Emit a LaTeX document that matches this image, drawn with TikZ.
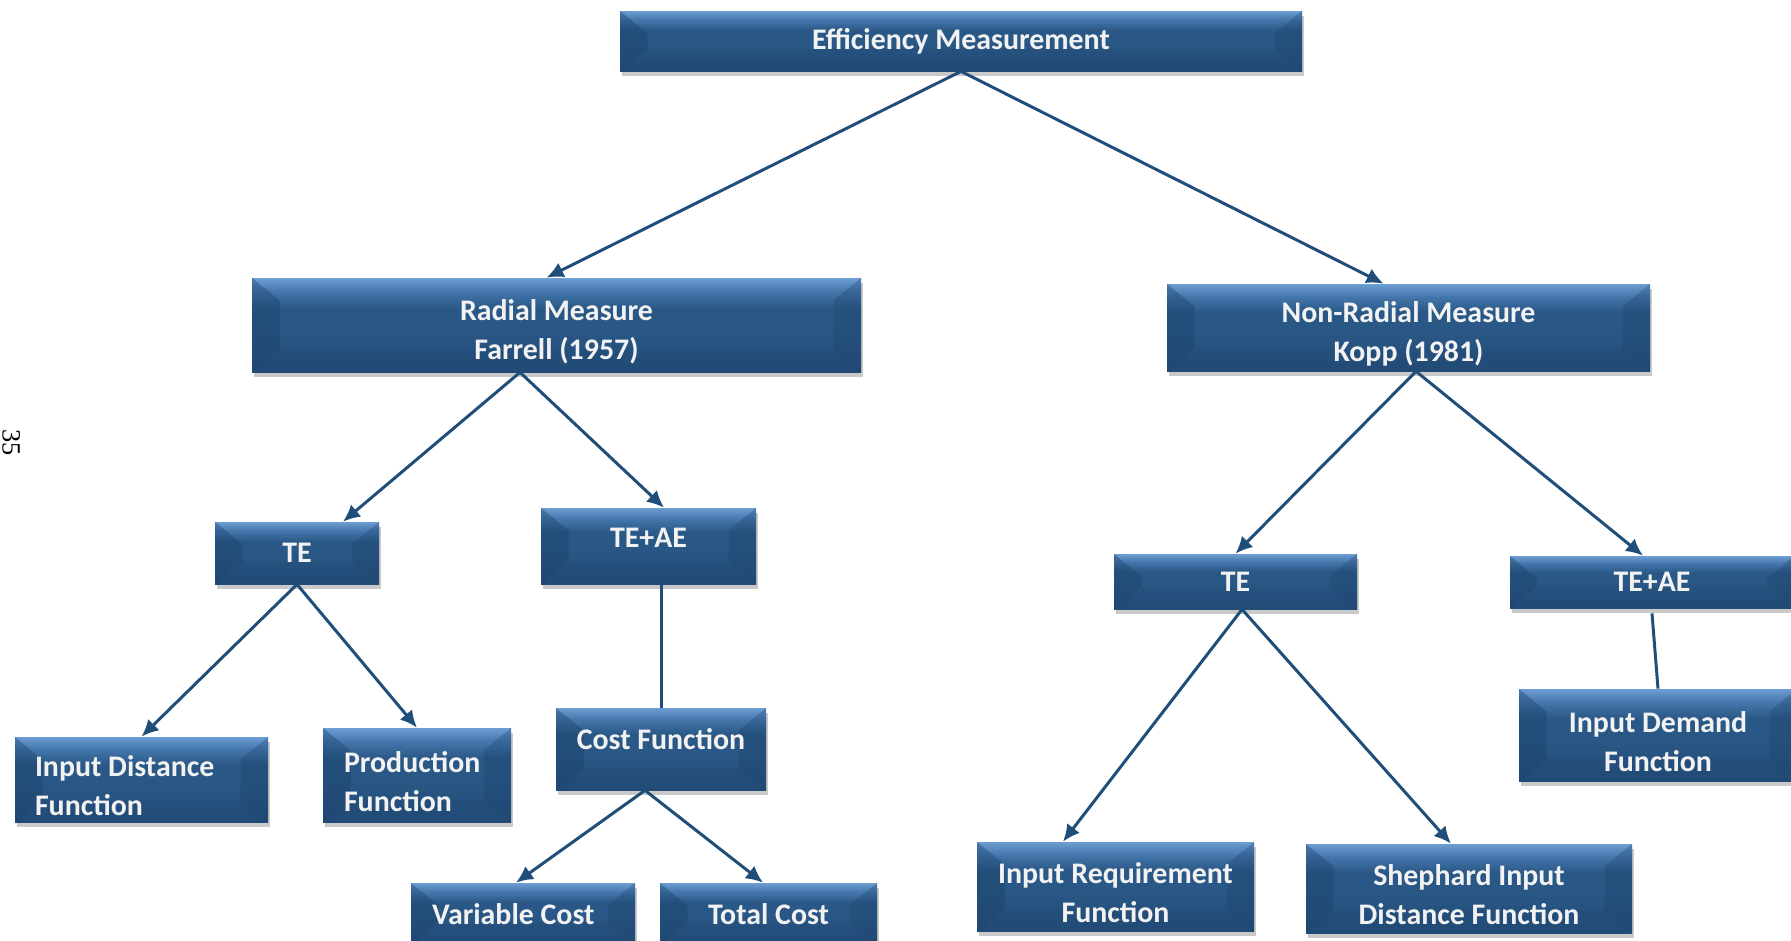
\documentclass[tikz,border=0pt]{standalone}
\usepackage{fontspec}
\setmainfont{Carlito}
\usepackage{tikz}
\usetikzlibrary{arrows.meta, positioning, calc, shadows}

\definecolor{linkblue}{HTML}{1F4E79}
\definecolor{boxmain}{HTML}{2A5886}
\definecolor{boxlow}{HTML}{234C78}
\definecolor{boxmid}{HTML}{4477AD}
\definecolor{boxlight}{HTML}{6C9DD3}
\definecolor{boxside}{HTML}{1A3F68}
\definecolor{boxtext}{HTML}{F2F2F2}

\pgfdeclareverticalshading{bevelfill}{100bp}{color(0bp)=(boxlow); color(25bp)=(boxlow); color(50bp)=(boxmain); color(59bp)=(boxmain); color(68bp)=(boxmid); color(75bp)=(boxlight); color(100bp)=(boxlight)}

\tikzset{
  bevbox/.style={rectangle, inner sep=0pt, align=flush center, text=boxtext,
    font=\bfseries\fontsize{17}{22.2}\selectfont,
    shading=bevelfill,
    drop shadow={shadow xshift=0.04cm, shadow yshift=-0.09cm, opacity=0.3, fill=black!70},
    path picture={
      % darker side faces of the bevel
      \fill[boxside, opacity=0.38] (path picture bounding box.north west)
        -- ([shift={(0.55,-0.45)}]path picture bounding box.north west)
        -- ([shift={(0.55,0.45)}]path picture bounding box.south west)
        -- (path picture bounding box.south west) -- cycle;
      \fill[boxside, opacity=0.3] (path picture bounding box.north east)
        -- ([shift={(-0.55,-0.45)}]path picture bounding box.north east)
        -- ([shift={(-0.55,0.45)}]path picture bounding box.south east)
        -- (path picture bounding box.south east) -- cycle;
      \fill[boxside, opacity=0.12] (path picture bounding box.south west)
        -- ([shift={(0.55,0.45)}]path picture bounding box.south west)
        -- ([shift={(-0.55,0.45)}]path picture bounding box.south east)
        -- (path picture bounding box.south east) -- cycle;
    }},
  twoline/.style={text height=0.68cm},
  link/.style={draw=linkblue, line width=1.7pt, -{Latex[length=0.34cm, width=0.32cm]}},
  plainlink/.style={draw=linkblue, line width=1.7pt},
}

\begin{document}
\begin{tikzpicture}
\useasboundingbox (0,0) rectangle (35.82,-18.82);

% page number left over at the margin
\node[rotate=-90, anchor=south, inner sep=0pt, font=\fontspec{Liberation Serif}\fontsize{15}{15}\selectfont] (pageno) at (0.04,-8.85) {35};

% top level
\node[bevbox, minimum width=13.64cm, minimum height=1.2cm] (eff) at (19.22,-0.82) {Efficiency Measurement};

% second level
\node[bevbox, twoline, minimum width=12.18cm, minimum height=1.88cm, text width=11cm] (radial) at (11.13,-6.5) {Radial Measure\\Farrell (1957)};
\node[bevbox, twoline, minimum width=9.66cm, minimum height=1.74cm, text width=8.5cm] (nonrad) at (28.17,-6.55) {Non-Radial Measure\\Kopp (1981)};

% third level
\node[bevbox, minimum width=3.28cm, minimum height=1.24cm] (teL) at (5.94,-11.06) {TE};
\node[bevbox, minimum width=4.3cm, minimum height=1.52cm, text depth=0.32cm] (teaeL) at (12.97,-10.92) {TE+AE};
\node[bevbox, minimum width=4.86cm, minimum height=1.1cm] (teR) at (24.71,-11.63) {TE};
\node[bevbox, minimum width=5.68cm, minimum height=1.04cm] (teaeR) at (33.04,-11.64) {TE+AE};

% leaves
\node[bevbox, twoline, minimum width=5.06cm, minimum height=1.7cm, text width=4.26cm, align=flush left] (idf) at (2.83,-15.59) {Input Distance\\Function};
\node[bevbox, twoline, minimum width=3.76cm, minimum height=1.88cm, text width=2.92cm, align=flush left] (pf) at (8.34,-15.5) {Production\\Function};
\node[bevbox, minimum width=4.2cm, minimum height=1.64cm, text depth=0.4cm] (cost) at (13.22,-14.98) {Cost Function};
\node[bevbox, minimum width=4.48cm, minimum height=1.24cm, text width=3.64cm, align=flush left] (vc) at (10.46,-18.28) {Variable Cost};
\node[bevbox, minimum width=4.34cm, minimum height=1.24cm] (tc) at (15.37,-18.28) {Total Cost};
\node[bevbox, twoline, minimum width=5.54cm, minimum height=1.78cm, text width=5.1cm] (irf) at (22.31,-17.73) {Input Requirement\\Function};
\node[bevbox, twoline, minimum width=6.52cm, minimum height=1.78cm, text width=6cm] (sid) at (29.38,-17.77) {Shephard Input\\Distance Function};
\node[bevbox, twoline, minimum width=5.56cm, minimum height=1.84cm, text width=5cm] (idem) at (33.16,-14.7) {Input Demand\\Function};

% connector ends
\coordinate (radial-in) at ([xshift=-0.2cm]radial.north);
\coordinate (nonrad-in) at ([xshift=-0.5cm]nonrad.north);
\coordinate (radial-out) at ([xshift=-0.73cm]radial.south);
\coordinate (teL-in) at ([xshift=0.92cm]teL.north);
\coordinate (teaeL-in) at ([xshift=0.31cm]teaeL.north);
\coordinate (cost-out) at ([xshift=-0.32cm]cost.south);
\coordinate (vc-in) at ([xshift=-0.14cm]vc.north);
\coordinate (tc-in) at ([xshift=-0.11cm]tc.north);
\coordinate (nonrad-out) at ([xshift=0.15cm]nonrad.south);
\coordinate (teaeR-in) at ([xshift=-0.18cm]teaeR.north);
\coordinate (teR-out) at ([xshift=0.13cm]teR.south);
\coordinate (irf-in) at ([xshift=-1.05cm]irf.north);
\coordinate (sid-in) at ([xshift=-0.36cm]sid.north);

\foreach \from/\to in {eff.south/radial-in, eff.south/nonrad-in,
    radial-out/teL-in, radial-out/teaeL-in,
    teL.south/idf.north, teL.south/pf.north,
    cost-out/vc-in, cost-out/tc-in,
    nonrad-out/teR.north, nonrad-out/teaeR-in,
    teR-out/irf-in, teR-out/sid-in}
  \draw[link] (\from) -- (\to);

\draw[plainlink] (cost.north |- teaeL.south) -- (cost.north);
\draw[plainlink] ([yshift=-0.1cm]teaeR.south) -- (idem.north);
\end{tikzpicture}
\end{document}
